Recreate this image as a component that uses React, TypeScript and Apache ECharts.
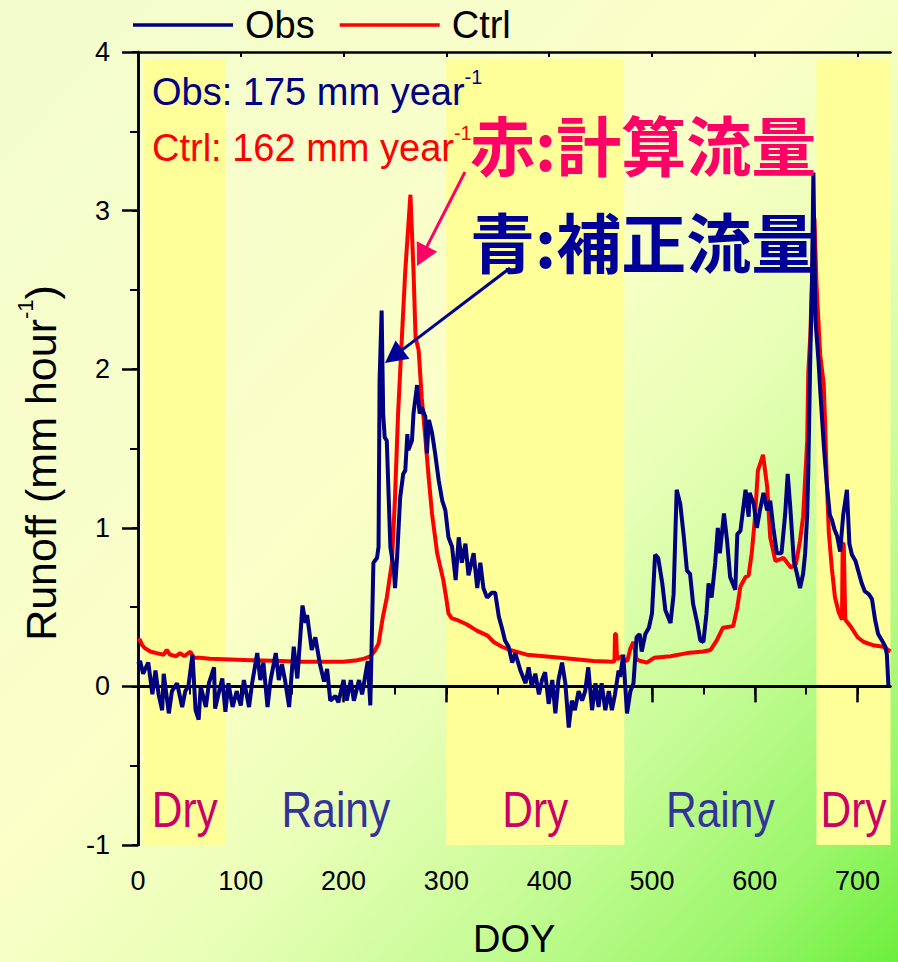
import React, { useEffect, useRef } from 'react';
import * as echarts from 'echarts';

// ---------- data ----------
const xTicks = [0, 100, 200, 300, 400, 500, 600, 700];
const xMinorTicks = [0, 50, 100, 150, 200, 250, 300, 350, 400, 450, 500, 550, 600, 650, 700];
const yTicks = [-1, 0, 1, 2, 3, 4];

const seasonNames = ['Dry', 'Rainy', 'Dry', 'Rainy', 'Dry'];
const seasonStart = [6, 85, 300, 473, 660];
const seasonEnd = [85, 300, 473, 660, 732];

const annualObs = 175;
const annualCtrl = 162;

const ctrlDoy = [
  0, 2, 4, 7, 12, 18, 25, 28, 31, 37, 41, 45, 51, 54, 60, 70, 90, 110, 139, 160, 187, 200, 213, 220,
  226, 230, 234, 238, 242, 247, 250, 253, 257, 260, 265, 268, 270, 273, 276, 280, 283, 286, 291, 297,
  300, 302, 305, 310, 320, 330, 340, 346, 354, 362, 378, 395, 411, 443, 462, 463.5, 464, 465, 466,
  470, 473, 476, 479, 482, 485, 489, 495, 502, 518, 534, 550, 557, 563, 569, 579, 583, 586, 591, 594,
  597, 600, 603, 608, 612, 615, 620, 628, 635, 640, 644, 647, 651, 652, 654, 655.6, 657, 658, 660,
  663.6, 667, 668.5, 670, 672, 675, 678, 681.5, 684.8, 685.5, 686.5, 688, 693, 700, 706, 715, 725, 732,
];
const ctrlRunoff = [
  0.30, 0.29, 0.26, 0.24, 0.22, 0.21, 0.20, 0.23, 0.20, 0.19, 0.21, 0.19, 0.22, 0.18, 0.18, 0.175,
  0.17, 0.165, 0.16, 0.155, 0.155, 0.155, 0.165, 0.175,
  0.19, 0.22, 0.27, 0.43, 0.56, 0.78, 1.19, 1.72, 2.24, 2.62, 3.10, 2.62, 2.20, 2.12, 1.82, 1.53,
  1.30, 1.09, 0.84, 0.67,
  0.55, 0.46, 0.43, 0.42, 0.39, 0.35, 0.32, 0.28, 0.25, 0.23, 0.20, 0.19, 0.18, 0.16, 0.155, 0.16,
  0.33, 0.33, 0.17,
  0.19, 0.17, 0.16, 0.24, 0.28, 0.17, 0.16, 0.15, 0.18, 0.19, 0.21, 0.22, 0.23, 0.29, 0.37, 0.38,
  0.50, 0.63, 0.69, 0.70,
  0.84, 1.05, 1.36, 1.46, 1.26, 0.94, 0.79, 0.81, 0.75, 0.77, 0.92, 1.07, 1.55, 1.98, 2.21, 2.54,
  2.88, 2.95, 2.54,
  2.09, 1.91, 1.64, 1.30, 0.97, 0.74, 0.56, 0.47, 0.42, 0.90, 0.90, 0.42, 0.38, 0.31, 0.28, 0.26,
  0.25, 0.22,
];

const obsDoy = [
  0, 2, 5, 7, 10, 14, 17, 20, 23.5, 25, 30, 33, 38, 43, 46, 49, 53, 56, 59, 61, 66, 69, 74, 75, 79,
  82, 85, 88, 92, 96, 100, 103, 108, 111, 116, 119, 122, 126, 129, 134, 137, 140, 143, 147, 151.5,
  155, 160, 163, 164.5, 169, 172.5, 177, 181, 184, 187, 192, 195, 200, 203, 207, 210, 215, 218,
  223.5, 226, 229, 232.5, 234, 235, 237, 238.5, 240, 242, 245.5, 249, 250, 252, 255, 258, 260, 262,
  263, 266.5, 268, 271.5, 274, 276, 279.5, 281, 283, 286, 289, 292.5, 296, 299, 302, 305.5, 309,
  312, 315, 318.5, 321.5, 326.5, 330, 333, 336, 339.5, 344, 347.5, 351, 354, 357, 360.5, 364, 367,
  372, 377, 380, 383, 386.5, 390, 393, 396, 399.5, 403, 406, 409, 412.5, 415.7, 419, 422, 425,
  428.6, 432, 435, 438, 441.7, 445, 448, 451, 454.6, 458, 461, 464, 467.5, 469, 472, 475.7, 479,
  482, 485, 488, 490, 493.5, 497, 500, 503, 506, 510, 513, 518, 521, 524, 527.5, 531, 534, 537,
  540, 544, 547, 550, 553, 555, 558, 561.5, 564, 566, 570, 573, 576, 581, 583, 586, 588.5, 591,
  594, 595, 599, 602, 605, 608.5, 612, 615, 618, 621.5, 626, 629.6, 632, 634.5, 638, 641, 644,
  647, 649, 651, 652, 654, 655.6, 657, 659, 662, 663.6, 667, 670, 673, 675, 677.5, 680, 683, 686,
  689.6, 692, 694.5, 698, 701, 704, 707, 711, 714, 717, 720, 723.7, 727, 728.5, 730,
];
const obsRunoff = [
  0.14, 0.16, 0.08, 0.11, 0.15, -0.05, 0.10, -0.05, -0.15, 0.08, -0.17, -0.03, 0.02, -0.13, -0.03,
  0.0, 0.20, -0.15, -0.21, 0.0, -0.13, 0.02, 0.12, -0.14, -0.03,
  0.05, -0.16, 0.02, -0.13, -0.03, -0.12, 0.04, -0.13, 0.02, 0.21, 0.04, 0.15, -0.13, 0.04, 0.21,
  0.04, 0.14, 0.04, -0.13, 0.25,
  0.05, 0.51, 0.40, 0.45, 0.23, 0.31, 0.14, 0.03, 0.11, -0.09, -0.06, -0.10, 0.04, -0.09, 0.04,
  -0.09, 0.04, -0.05,
  0.16, -0.12, 0.78, 0.81, 0.88, 1.93, 2.37, 1.72, 1.57, 1.55, 0.88, 0.73, 0.62, 0.81, 1.19, 1.34,
  1.36, 1.59,
  1.49, 1.55, 1.72, 1.90, 1.72, 1.76, 1.70, 1.47, 1.68, 1.60, 1.47, 1.30, 1.17, 1.11, 0.94, 0.88,
  0.67,
  0.94, 0.78, 0.90, 0.70, 0.84, 0.62, 0.78, 0.62, 0.56, 0.59, 0.59, 0.44, 0.37, 0.29, 0.25, 0.15,
  0.21,
  0.10, 0.02, 0.12, 0.0, 0.08, -0.05, 0.04, 0.09, -0.11, 0.04, -0.17, 0.04, 0.15, 0.02, -0.26,
  -0.09, -0.15,
  -0.03, -0.09, -0.03, 0.12, -0.15, 0.02, -0.13, 0.02, -0.15, -0.03, -0.15, -0.05, 0.10, 0.06,
  0.20, -0.17, -0.03,
  0.02, 0.31, 0.33, 0.22, 0.33, 0.37, 0.46, 0.83, 0.81, 0.65, 0.48, 0.40, 0.58, 1.24, 1.15, 0.94,
  0.73, 0.71,
  0.52, 0.40, 0.29, 0.28, 0.46, 0.65, 0.56, 0.78, 1.00, 0.84, 1.09, 0.92, 0.69, 0.61, 0.96, 0.98,
  1.11, 1.24,
  1.07, 1.22, 1.15, 1.00, 1.11, 1.22, 1.11, 1.17, 1.00, 0.84, 0.84, 1.09, 1.34, 1.13, 0.79, 0.71,
  0.62,
  0.71, 0.84, 1.09, 1.35, 2.09, 2.54, 3.24, 2.31, 2.05, 1.87, 1.53, 1.28, 1.08, 1.05, 0.99, 0.95,
  0.85, 1.08,
  1.24, 0.90, 0.83, 0.79, 0.72, 0.65, 0.60, 0.58, 0.55, 0.42, 0.33, 0.29, 0.25, 0.20, 0.0,
];

// ---------- styling ----------
const FONT = '"Liberation Sans", Arial, Helvetica, sans-serif';
const CJK = '"Noto Sans CJK JP", "Noto Sans CJK SC", sans-serif';
const OBS_COLOR = '#000080';
const CTRL_COLOR = '#FF0000';
const DRY_FILL = '#FFFF99';
const BAND_TOP = 3.955;

function arrow(id: string, x1: number, y1: number, x2: number, y2: number, color: string, headLen: number, headW: number) {
  const dx = x2 - x1;
  const dy = y2 - y1;
  const len = Math.sqrt(dx * dx + dy * dy);
  const ux = dx / len;
  const uy = dy / len;
  const bx = x2 - ux * headLen;
  const by = y2 - uy * headLen;
  const px = -uy;
  const py = ux;
  return [
    {
      type: 'line',
      id: id + '-line',
      z: 100,
      shape: { x1, y1, x2: bx + ux * 2, y2: by + uy * 2 },
      style: { stroke: color, lineWidth: 3 },
      silent: true,
    },
    {
      type: 'polygon',
      id: id + '-head',
      z: 100,
      shape: {
        points: [
          [x2, y2],
          [bx + (px * headW) / 2, by + (py * headW) / 2],
          [bx - (px * headW) / 2, by - (py * headW) / 2],
        ],
      },
      style: { fill: color },
      silent: true,
    },
  ];
}

export default function App() {
  const ref = useRef<HTMLDivElement>(null);

  useEffect(() => {
    if (!ref.current) return;
    const chart = echarts.init(ref.current, null, { renderer: 'svg' });

    const obsData = obsDoy.map((d, i) => [d, obsRunoff[i]]);
    const ctrlData = ctrlDoy.map((d, i) => [d, ctrlRunoff[i]]);

    const dryAreas: any[] = [];
    seasonNames.forEach((n, i) => {
      if (n === 'Dry') {
        dryAreas.push([
          { xAxis: seasonStart[i], yAxis: BAND_TOP },
          { xAxis: seasonEnd[i], yAxis: -1 },
        ]);
      }
    });

    const axisLineStyle = { color: '#000', width: 2.5 };

    chart.setOption({
      animation: false,
      backgroundColor: new echarts.graphic.LinearGradient(0, 0, 1, 1, [
        { offset: 0, color: '#F2FCCE' },
        { offset: 0.45, color: '#FBFFC8' },
        { offset: 0.6, color: '#EAFFB8' },
        { offset: 0.75, color: '#C8FC98' },
        { offset: 0.9, color: '#9AF66A' },
        { offset: 1, color: '#6CEE3C' },
      ]),
      legend: {
        data: ['Obs', 'Ctrl'],
        left: 133,
        top: 6,
        icon: 'rect',
        itemWidth: 100,
        itemHeight: 3.5,
        itemGap: 25,
        padding: 0,
        textStyle: { fontSize: 38, color: '#000', fontFamily: FONT, padding: [0, 0, 0, 7] },
      },
      grid: { left: 138, right: 7.5, top: 52, bottom: 117, containLabel: false, outerBoundsMode: 'none' },
      xAxis: [
        {
          type: 'value',
          min: 0,
          max: 732,
          position: 'bottom',
          z: 3,
          axisLine: { show: true, lineStyle: axisLineStyle },
          axisTick: { show: true, customValues: xTicks, length: 16, lineStyle: { color: '#000', width: 2.5 } },
          axisLabel: { show: true, customValues: xTicks, margin: 22, fontSize: 27, color: '#000', fontFamily: FONT },
          splitLine: { show: false },
          name: 'DOY',
          nameLocation: 'middle',
          nameGap: 75,
          nameTextStyle: { fontSize: 38, color: '#000', fontFamily: FONT },
        },
        {
          type: 'value',
          min: 0,
          max: 732,
          position: 'bottom',
          z: 3,
          axisLine: { show: false },
          axisTick: { show: true, customValues: xMinorTicks, length: 8, lineStyle: { color: '#000', width: 2 } },
          axisLabel: { show: false },
          splitLine: { show: false },
        },
        {
          type: 'value',
          min: 0,
          max: 732,
          position: 'top',
          z: 3,
          axisLine: { show: true, lineStyle: axisLineStyle },
          axisTick: { show: true, inside: true, customValues: xTicks, length: 5, lineStyle: { color: '#000', width: 2 } },
          axisLabel: { show: false },
          splitLine: { show: false },
        },
      ],
      yAxis: [
        {
          type: 'value',
          min: -1,
          max: 4,
          interval: 1,
          position: 'left',
          z: 3,
          axisLine: { show: true, lineStyle: axisLineStyle },
          axisTick: { show: true, length: 16, lineStyle: { color: '#000', width: 2.5 } },
          minorTick: { show: true, splitNumber: 2, length: 8, lineStyle: { color: '#000', width: 2 } },
          axisLabel: {
            show: true,
            margin: 28,
            fontSize: 27,
            color: '#000',
            fontFamily: FONT,
            formatter: (v: number) => (yTicks.includes(v) ? String(v) : ''),
          },
          splitLine: { show: false },
        },
        {
          type: 'value',
          min: -1,
          max: 4,
          interval: 1,
          position: 'right',
          z: 3,
          axisLine: { show: true, lineStyle: axisLineStyle },
          axisTick: { show: true, inside: true, length: 6, lineStyle: { color: '#000', width: 2 } },
          minorTick: { show: true, splitNumber: 2, length: 6, lineStyle: { color: '#000', width: 2 } },
          axisLabel: { show: false },
          splitLine: { show: false },
        },
      ],
      series: [
        {
          name: 'Ctrl',
          type: 'line',
          xAxisIndex: 0,
          yAxisIndex: 0,
          data: ctrlData,
          showSymbol: false,
          symbol: 'none',
          z: 4,
          lineStyle: { color: CTRL_COLOR, width: 4 },
          itemStyle: { color: CTRL_COLOR },
          markArea: {
            silent: true,
            z: 1,
            itemStyle: { color: DRY_FILL },
            label: { show: false },
            data: dryAreas,
          },
        },
        {
          name: 'Obs',
          type: 'line',
          xAxisIndex: 0,
          yAxisIndex: 0,
          data: obsData,
          showSymbol: false,
          symbol: 'none',
          z: 5,
          lineStyle: { color: OBS_COLOR, width: 4 },
          itemStyle: { color: OBS_COLOR },
          markLine: {
            silent: true,
            symbol: ['none', 'none'],
            label: { show: false },
            lineStyle: { color: '#000', width: 3, type: 'solid' },
            data: [{ yAxis: 0 }],
          },
        },
      ],
    });

    // season labels placed from data coordinates
    const seasonLabels = seasonNames.map((n, i) => {
      const cx = chart.convertToPixel({ xAxisIndex: 0 }, (seasonStart[i] + seasonEnd[i]) / 2) as number;
      const cy = chart.convertToPixel({ yAxisIndex: 0 }, -0.75) as number;
      return {
        type: 'text',
        id: 'season-' + i,
        x: cx,
        y: cy + 4,
        scaleX: 0.85,
        z: 50,
        silent: true,
        style: {
          text: n,
          fontSize: 50,
          fontFamily: FONT,
          fill: n === 'Dry' ? '#CC0066' : '#333399',
          align: 'center',
          verticalAlign: 'middle',
        },
      };
    });

    const supRich = (color: string) => ({
      a: { fontSize: 38, lineHeight: 50, fontFamily: FONT, fill: color },
      s: { fontSize: 20, lineHeight: 15, fontFamily: FONT, fill: color, verticalAlign: 'top' },
    });

    chart.setOption({
      graphic: [
        ...seasonLabels,
        {
          type: 'text',
          id: 'ytitle',
          x: 41,
          y: 463,
          rotation: Math.PI / 2,
          silent: true,
          style: {
            text: '{a|Runoff (mm hour}{s|-1}{a|)}',
            rich: {
              a: { fontSize: 43, lineHeight: 54, fontFamily: FONT, fill: '#000' },
              s: { fontSize: 22, lineHeight: 16, fontFamily: FONT, fill: '#000', verticalAlign: 'top' },
            },
            align: 'center',
            verticalAlign: 'middle',
          },
        },
        {
          type: 'text',
          id: 'obs-total',
          x: 152,
          y: 92,
          z: 60,
          silent: true,
          style: {
            text: '{a|Obs: ' + annualObs + ' mm year}{s|-1}',
            rich: supRich(OBS_COLOR),
            align: 'left',
            verticalAlign: 'middle',
          },
        },
        {
          type: 'text',
          id: 'ctrl-total',
          x: 152,
          y: 148,
          z: 60,
          silent: true,
          style: {
            text: '{a|Ctrl: ' + annualCtrl + ' mm year}{s|-1}',
            rich: supRich(CTRL_COLOR),
            align: 'left',
            verticalAlign: 'middle',
          },
        },
        {
          type: 'text',
          id: 'jp-red',
          x: 470,
          y: 143,
          z: 70,
          silent: true,
          style: {
            text: '赤:計算流量',
            fontSize: 65,
            fontWeight: 'bold',
            fontFamily: CJK,
            fill: '#FF0066',
            align: 'left',
            verticalAlign: 'middle',
          },
        },
        {
          type: 'text',
          id: 'jp-blue',
          x: 470,
          y: 240,
          z: 70,
          silent: true,
          style: {
            text: '青:補正流量',
            fontSize: 65,
            fontWeight: 'bold',
            fontFamily: CJK,
            fill: '#000099',
            align: 'left',
            verticalAlign: 'middle',
          },
        },
        ...arrow('arrow-red', 465, 172, 417, 266, '#FF0066', 22, 23),
        ...arrow('arrow-blue', 510, 268, 385, 363, '#000099', 22, 23),
      ],
    });

    return () => {
      chart.dispose();
    };
  }, []);

  return (
    <div
      ref={ref}
      style={{ position: 'absolute', left: 0, top: 0, width: 898, height: 962 }}
    />
  );
}
